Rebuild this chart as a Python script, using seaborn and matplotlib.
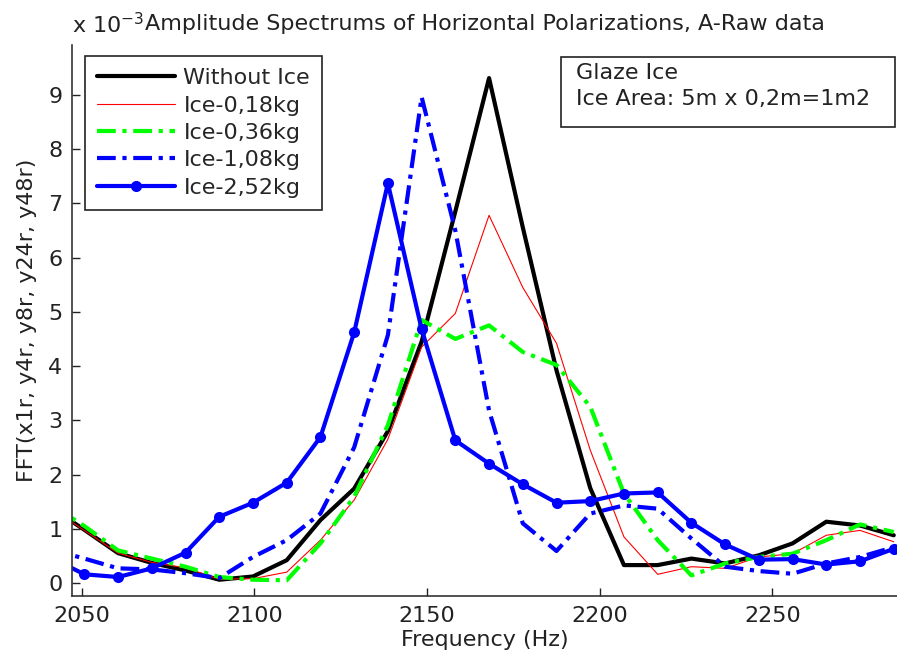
import matplotlib
matplotlib.use("Agg")
import matplotlib.pyplot as plt
import seaborn as sns
import pandas as pd
from matplotlib.patches import Rectangle

# ---- data (amplitude x 1e-3) ----
freq = [2041.02, 2050.78, 2060.55, 2070.31, 2080.08, 2089.84, 2099.61, 2109.38,
        2119.14, 2128.91, 2138.67, 2148.44, 2158.20, 2167.97, 2177.73, 2187.50,
        2197.27, 2207.03, 2216.80, 2226.56, 2236.33, 2246.09, 2255.86, 2265.63,
        2275.39, 2285.16]
without_ice = [1.40, 0.98, 0.55, 0.37, 0.23, 0.06, 0.12, 0.42, 1.16, 1.74, 2.80, 4.45, 6.85,
               9.31, 6.56, 3.92, 1.75, 0.33, 0.33, 0.45, 0.36, 0.51, 0.73, 1.13, 1.06, 0.88]
ice_018 = [1.38, 0.97, 0.55, 0.38, 0.28, 0.07, 0.08, 0.20, 0.79, 1.53, 2.65, 4.35, 4.97,
           6.78, 5.45, 4.42, 2.45, 0.85, 0.16, 0.30, 0.27, 0.48, 0.54, 0.88, 0.97, 0.76]
ice_036 = [1.45, 1.05, 0.60, 0.45, 0.30, 0.11, 0.06, 0.05, 0.73, 1.59, 2.91, 4.85, 4.50,
           4.75, 4.26, 4.02, 3.25, 1.65, 0.79, 0.14, 0.36, 0.48, 0.54, 0.79, 1.08, 0.94]
ice_108 = [0.62, 0.45, 0.27, 0.25, 0.18, 0.09, 0.48, 0.79, 1.28, 2.50, 4.57, 8.96, 6.50,
           3.18, 1.10, 0.59, 1.28, 1.43, 1.37, 0.82, 0.30, 0.22, 0.17, 0.36, 0.48, 0.66]
ice_252 = [0.47, 0.16, 0.11, 0.27, 0.56, 1.22, 1.48, 1.85, 2.69, 4.62, 7.37, 4.68, 2.63,
           2.20, 1.82, 1.48, 1.51, 1.65, 1.67, 1.11, 0.71, 0.43, 0.44, 0.34, 0.40, 0.63]

labels = ["Without Ice", "Ice-0,18kg", "Ice-0,36kg", "Ice-1,08kg", "Ice-2,52kg"]
xticks = [2050, 2100, 2150, 2200, 2250]
yticks = [0, 1, 2, 3, 4, 5, 6, 7, 8, 9]

sns.set_theme(style="white")
plt.rcParams["font.family"] = ["DejaVu Sans"]
FS = 16

fig = plt.figure(figsize=(8.97, 6.54), dpi=100)
ax = fig.add_axes([72 / 897, 58 / 654, 825 / 897, 551 / 654])

df = pd.DataFrame({"f": freq, "a": without_ice, "b": ice_018, "c": ice_036,
                   "d": ice_108, "e": ice_252})

dashdot = (0, (4.5, 1.6, 1.0, 1.6))
specs = [
    ("a", labels[0], "black", 3.0, "-", None),
    ("b", labels[1], "red", 0.8, "-", None),
    ("c", labels[2], (0, 1, 0), 3.0, dashdot, None),
    ("d", labels[3], (0, 0, 1), 3.0, dashdot, None),
    ("e", labels[4], (0, 0, 1), 3.0, "-", "o"),
]
for col, lab, colr, lw, ls, mk in specs:
    sns.lineplot(data=df, x="f", y=col, ax=ax, color=colr, lw=lw, label=lab,
                 estimator=None, sort=False, marker=mk, markersize=8,
                 markeredgewidth=0, clip_on=True)
for line, (col, lab, colr, lw, ls, mk) in zip(ax.get_lines(), specs):
    line.set_linestyle(ls)

ax.set_xlim(2047.2, 2286.1)
ax.set_ylim(-0.24, 9.92)
ax.set_xticks(xticks)
ax.set_yticks(yticks)
ax.tick_params(direction="in", length=6, width=1, labelsize=FS, colors="#222222",
               left=True, bottom=True, pad=7)
for s in ["top", "right"]:
    ax.spines[s].set_visible(False)
for s in ["left", "bottom"]:
    ax.spines[s].set_color("#333333")
    ax.spines[s].set_linewidth(1.2)

ax.set_xlabel("Frequency (Hz)", fontsize=FS, color="#222222", labelpad=3)
ax.set_ylabel("FFT(x1r, y4r, y8r, y24r, y48r)", fontsize=FS, color="#222222", labelpad=8)
ax.set_title("Amplitude Spectrums of Horizontal Polarizations, A-Raw data",
             fontsize=FS, color="#222222", pad=11)
ax.text(0.0, 1.014, r"x 10$^{-3}$", transform=ax.transAxes, ha="left", va="bottom",
        fontsize=FS, color="#222222")

leg = ax.legend(loc="upper left", bbox_to_anchor=(13 / 825, 1 - 11 / 551),
                borderaxespad=0, fontsize=FS, frameon=True, fancybox=False,
                framealpha=1, edgecolor="#222222", handlelength=3.5,
                labelspacing=0.33, handletextpad=0.38, borderpad=0.55)
leg.get_frame().set_linewidth(1.2)

# annotation box
x0 = (560.7 - 72) / 825
y1 = (596 - 57.3) / 551
y0 = (596 - 127.3) / 551
ax.add_patch(Rectangle((x0, y0), (895 - 560.7) / 825, y1 - y0, transform=ax.transAxes,
                       fill=True, facecolor="white", edgecolor="#222222", lw=1.2,
                       zorder=5, clip_on=False))
ax.text((575.7 - 72) / 825, (596 - 63) / 551, "Glaze Ice\nIce Area: 5m x 0,2m=1m2",
        transform=ax.transAxes, ha="left", va="top", fontsize=FS, color="#222222",
        linespacing=1.35, zorder=6)

fig.savefig("out.png", dpi=100)
